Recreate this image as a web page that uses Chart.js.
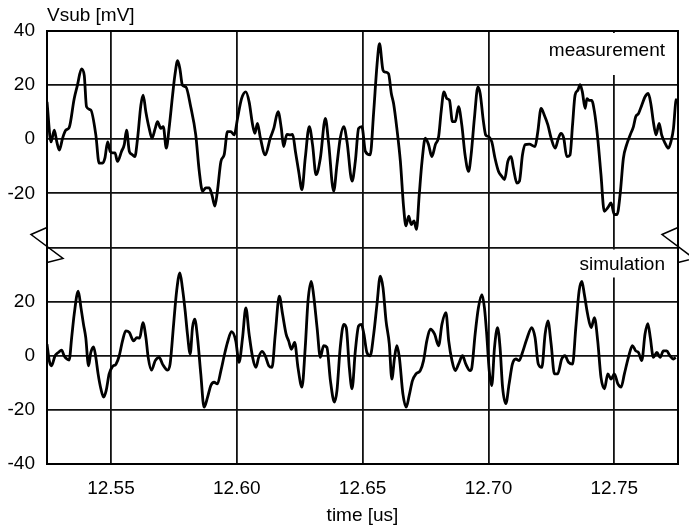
<!DOCTYPE html>
<html>
<head>
<meta charset="utf-8">
<script src="https://cdn.jsdelivr.net/npm/chart.js@4.4.1/dist/chart.umd.min.js"></script>
<style>
  html, body { margin: 0; padding: 0; background: #fff; }
  canvas { display: block; }
</style>
</head>
<body>
<canvas id="graficaVsub" width="689" height="530"></canvas>
<script>
// --- Datos (tiempo en us, tension en mV) ---
const measTime = [
  12.5246, 12.5262, 12.5275, 12.5285, 12.5295, 12.5308, 12.5321, 12.5334, 12.5354, 12.5367,
  12.5383, 12.5394, 12.5403, 12.5420, 12.5440, 12.5453, 12.5467, 12.5476, 12.5487, 12.5497,
  12.5507, 12.5516, 12.5526, 12.5542, 12.5553, 12.5562, 12.5573, 12.5582, 12.5595, 12.5606,
  12.5619, 12.5628, 12.5639, 12.5652, 12.5663, 12.5676, 12.5685, 12.5698, 12.5708, 12.5720,
  12.5731, 12.5745, 12.5754, 12.5765, 12.5774, 12.5784, 12.5798, 12.5817, 12.5837, 12.5851,
  12.5864, 12.5877, 12.5890, 12.5901, 12.5913, 12.5923, 12.5937, 12.5950, 12.5963, 12.5976,
  12.5990, 12.6003, 12.6019, 12.6036, 12.6049, 12.6063, 12.6072, 12.6082,
  12.6094, 12.6113, 12.6133, 12.6147, 12.6164, 12.6177, 12.6186, 12.6199, 12.6213, 12.6222,
  12.6233, 12.6246, 12.6259, 12.6272, 12.6288, 12.6301, 12.6315, 12.6332, 12.6352, 12.6365,
  12.6385, 12.6398, 12.6411, 12.6425, 12.6438, 12.6458, 12.6471, 12.6484, 12.6497, 12.6511,
  12.6530, 12.6544, 12.6557, 12.6567, 12.6581, 12.6590, 12.6603, 12.6614, 12.6623, 12.6636,
  12.6650, 12.6663, 12.6672, 12.6683, 12.6693, 12.6704, 12.6714, 12.6725, 12.6736, 12.6749,
  12.6762, 12.6775, 12.6789, 12.6802, 12.6812, 12.6823, 12.6835, 12.6845, 12.6857, 12.6868,
  12.6881, 12.6894, 12.6907, 12.6921,
  12.6931, 12.6944, 12.6958, 12.6967, 12.6980, 12.6989, 12.7000, 12.7013, 12.7026, 12.7040,
  12.7053, 12.7064, 12.7077, 12.7090, 12.7099, 12.7113, 12.7123, 12.7135, 12.7146, 12.7162,
  12.7185, 12.7196, 12.7209, 12.7222, 12.7236, 12.7249, 12.7265, 12.7278, 12.7288, 12.7299,
  12.7311, 12.7324, 12.7334, 12.7344, 12.7355, 12.7364, 12.7373, 12.7384, 12.7391, 12.7400,
  12.7410, 12.7421, 12.7434, 12.7447, 12.7460, 12.7474, 12.7487, 12.7500, 12.7511, 12.7523,
  12.7536, 12.7549, 12.7563, 12.7576, 12.7585, 12.7596, 12.7609, 12.7622, 12.7635, 12.7646,
  12.7655, 12.7666, 12.7678, 12.7688, 12.7702, 12.7715, 12.7725, 12.7735, 12.7744, 12.7749
];
const measVal = [
  13.8, -1, 3.4, -1, -4, 0.4, 3.4, 4.3, 15, 20,
  26, 23.6, 12, 10.8, 1.6, -8.8, -8.8, -7, -1, -4.5,
  -5, -5, -8.2, -4.5, -2, 3.4, -4.5, -5.5, -6.4, 0.4,
  12.6, 16.3, 10, 4, 0.4, 4, 6.5, 4, 4.7, -3.3,
  4, 16.3, 23.6, 29, 26, 20, 19.3, 12, 1.6, -11.9,
  -19.2, -18, -18, -20.4, -24.7, -19.2, -8.2, -5.7, 2.8, 2.8,
  1.6, 7.7, 15, 17.5, 13.8, 5.3, 2.2, 5.9,
  0.4, -5.8, 0.4, 4, 10.2, 4, -2.7, 1.8, 1.6, 1.8,
  -4.5, -11.9, -18.6, -7, 4.7, -2, -13.1, -7, 7.7, -1.5,
  -19.2, -9.4, 0.4, 4.7, -0.9, -15.5, -8.2, 4, 4.7, -4.5,
  -5.8, 10.2, 27.3, 35.3, 25.5, 24.8, 24.2, 16.9, 13.2, 4,
  -8.2, -25.3, -32, -28.4, -31.5, -30.2, -33.3, -20.4, -8.2, 0.4,
  -2, -6.4, -2, 1, 10.2, 17.5, 15, 14.4, 6.5, 6.5,
  12, 5.3, -5.8, -11.9,
  -5.8, 7.7, 19.3, 16.9, 6.5, 1.6, 1, -0.9, -7, -11.9,
  -13.7, -14.9, -8.2, -6.4, -10.6, -16.2, -15.5, -5.8, -2, -1.8,
  -2.7, 2.8, 11.4, 8.9, 5.3, 0.4, -3.3, 0.4, 2.2, 0.4,
  -6.4, -5.8, 5.3, 16.3, 18.1, 20.2, 17.5, 11.4, 15, 14.4,
  14.4, 10.2, 0.4, -13.1, -26.6, -25.3, -23.5, -27.8, -27.8, -20.4,
  -7, -2, 1.6, 4.7, 8.3, 9.5, 12.6, 15.7, 16.9, 12.6,
  6.5, 1.6, 5.9, 1.6, -1.5, -3.3, -0.9, 4, 13.8, 15
];

const simTime = [
  12.5246, 12.5255, 12.5264, 12.5278, 12.5291, 12.5304, 12.5314, 12.5325, 12.5334, 12.5344,
  12.5354, 12.5370, 12.5381, 12.5391, 12.5400, 12.5411, 12.5420, 12.5431, 12.5440, 12.5449,
  12.5460, 12.5471, 12.5481, 12.5493, 12.5506, 12.5520, 12.5533, 12.5546, 12.5559, 12.5573,
  12.5590, 12.5603, 12.5614, 12.5627, 12.5639, 12.5648, 12.5661, 12.5676, 12.5692, 12.5705,
  12.5725, 12.5735, 12.5749, 12.5761, 12.5774, 12.5784, 12.5795, 12.5804, 12.5815, 12.5824,
  12.5833, 12.5844, 12.5857, 12.5870, 12.5884, 12.5897, 12.5910, 12.5923, 12.5937, 12.5950,
  12.5963, 12.5979, 12.5996, 12.6009, 12.6023, 12.6036, 12.6049, 12.6063, 12.6076,
  12.6087, 12.6100, 12.6113, 12.6127, 12.6140, 12.6153, 12.6169, 12.6182, 12.6196, 12.6206,
  12.6217, 12.6230, 12.6243, 12.6259, 12.6272, 12.6283, 12.6296, 12.6305, 12.6319, 12.6332,
  12.6345, 12.6358, 12.6372, 12.6388, 12.6398, 12.6411, 12.6425, 12.6435, 12.6447, 12.6458,
  12.6471, 12.6484, 12.6495, 12.6505, 12.6517, 12.6530, 12.6544, 12.6557, 12.6570, 12.6581,
  12.6593, 12.6606, 12.6616, 12.6627, 12.6636, 12.6646, 12.6660, 12.6673, 12.6685, 12.6698,
  12.6712, 12.6729, 12.6742, 12.6755, 12.6769, 12.6786, 12.6802, 12.6815, 12.6831, 12.6842,
  12.6855, 12.6868, 12.6881, 12.6897, 12.6910, 12.6927,
  12.6934, 12.6947, 12.6960, 12.6974, 12.6984, 12.6993, 12.7003, 12.7013, 12.7024, 12.7036,
  12.7046, 12.7056, 12.7069, 12.7082, 12.7095, 12.7109, 12.7122, 12.7135, 12.7152, 12.7172,
  12.7185, 12.7198, 12.7212, 12.7225, 12.7236, 12.7249, 12.7262, 12.7275, 12.7291, 12.7304,
  12.7318, 12.7334, 12.7347, 12.7360, 12.7371, 12.7381, 12.7394, 12.7408, 12.7421, 12.7434,
  12.7447, 12.7461, 12.7474, 12.7487, 12.7500, 12.7514, 12.7527, 12.7540, 12.7556, 12.7572,
  12.7585, 12.7596, 12.7609, 12.7622, 12.7633, 12.7643, 12.7655, 12.7669, 12.7682, 12.7695,
  12.7708, 12.7721, 12.7735, 12.7744
];
const simVal = [
  4.3, -1.8, -3.7, 0, 1.2, 2.1, 0, -1.2, -1.6, 6.7,
  15.3, 23.9, 17.7, 11.6, 6.7, -3.7, 1.2, 3.3, -0.6, -6.7,
  -12.2, -15.3, -12.9, -6.7, -4, -3.1, 0, 5.5, 9.2, 8.6,
  5.5, 6.7, 6.5, 12.2, 6.7, -0.6, -5.3, -1.8, -0.6, -3.1,
  -5.3, -3.1, 11.6, 23.9, 30.6, 25.1, 16.5, 8, 0.6, 10.4,
  13.5, 6.7, -6.7, -19, -15.3, -11, -9.8, -10.4, -5.5, 0,
  4.9, 8.9, 5.5, -2.4, 6.7, 17.7, 8, -0.6, -4.3,
  -0.6, 1.6, 0, -3.7, -4.3, 8, 22, 15.3, 8, 5.5,
  2.4, 4.9, -4.3, -11.6, 3.1, 20.2, 27.5, 22.6, 10.4, -0.6,
  3.7, 3.1, -9.2, -17.1, -12.9, 3.1, 11.6, 10.4, -4.3, -12.2,
  1.8, 11, 11.6, 8, 1.2, 0, 8, 19, 29.4, 25.1,
  12.9, 4.3, -8.6, -0.6, 3.7, -0.6, -14.1, -19, -14.7, -9.2,
  -6.7, -5.5, -1.8, 5.5, 9.8, 8, 3.7, 11.6, 15.9, 5.5,
  -1.8, -5.5, -3.1, 0, -3.1, -5.5,
  -4.3, 8, 17.7, 22.6, 17.7, 8, -5.5, -11, 3.1, 10.4,
  3.1, -11.6, -17.7, -10.4, -3.1, -1.2, -1.8, 1.2, 6.1, 10.4,
  6.7, -3.1, -4.3, 8, 12.9, 4.3, -6.7, -6.7, -1.2, 0,
  -2.4, -3.1, 10.4, 23.9, 27.5, 22.6, 15.3, 10.4, 14.1, 5.5,
  -8, -12.2, -6.7, -8.6, -6.7, -10.4, -11.6, -6.7, -0.6, 3.7,
  1.8, 1.2, -1.8, 8, 11.9, 6.7, -0.6, 1.2, -0.6, 1.8,
  1.8, 0, -1.2, -0.6
];

// Ejes
const xTicks      = [12.55, 12.60, 12.65, 12.70, 12.75];
const yTickValues = [-40, -20, 0, 20, 40, 60, 80, 100, 120];
const yTickLabels = ['-40', '-20', '0', '20', '', '-20', '0', '20', '40'];
const MEAS_OFFSET = 80;   // el panel de medida se sube 80 mV sobre el eje comun
const BREAK_AT    = 40;   // linea de corte entre paneles

const FONT = '"Liberation Sans", Arial, Helvetica, sans-serif';
Chart.defaults.font.family = FONT;
Chart.defaults.color = '#000';

// --- Textos, cortes del eje y marco ---
const extras = {
  id: 'extras',
  beforeDatasetsDraw(chart) {
    const { ctx, chartArea: a, scales: { y } } = chart;
    const yb = y.getPixelForValue(BREAK_AT);
    ctx.save();
    ctx.fillStyle = '#fff';
    ctx.fillRect(a.right - 140, a.top + 2, 138, 42);
    ctx.fillRect(a.right - 108, yb + 2, 106, 28);
    ctx.restore();
  },
  afterDatasetsDraw(chart) {
    const { ctx, chartArea: a, scales: { y } } = chart;
    const yb = y.getPixelForValue(BREAK_AT);
    ctx.save();
    ctx.strokeStyle = '#000';
    ctx.lineWidth = 2;
    ctx.strokeRect(a.left, a.top, a.right - a.left, a.bottom - a.top);

    ctx.lineWidth = 1.5;
    [a.left, a.right].forEach(px => {
      ctx.beginPath();
      ctx.moveTo(px, yb - 20);
      ctx.lineTo(px - 16, yb - 13);
      ctx.lineTo(px + 16, yb + 11);
      ctx.lineTo(px, yb + 15);
      ctx.stroke();
    });

    ctx.fillStyle = '#000';
    ctx.font = '19px ' + FONT;
    ctx.textBaseline = 'middle';
    ctx.textAlign = 'right';
    ctx.fillText('measurement', a.right - 13, a.top + 20);
    ctx.fillText('simulation', a.right - 13, yb + 17);
    ctx.textAlign = 'left';
    ctx.fillText('Vsub [mV]', a.left, 16);
    ctx.textAlign = 'center';
    ctx.fillText('time [us]', (a.left + a.right) / 2, 516);
    ctx.restore();
  }
};

const ctx = document.getElementById('graficaVsub').getContext('2d');
new Chart(ctx, {
  type: 'line',
  data: {
    datasets: [
      {
        label: 'measurement',
        data: measTime.map((t, i) => ({ x: t, y: measVal[i] + MEAS_OFFSET }))
      },
      {
        label: 'simulation',
        data: simTime.map((t, i) => ({ x: t, y: simVal[i] }))
      }
    ]
  },
  options: {
    responsive: false,
    animation: false,
    layout: { padding: { top: 31, right: 11, left: 0, bottom: 0 } },
    elements: {
      point: { radius: 0 },
      line: { borderColor: '#000', borderWidth: 2.8, cubicInterpolationMode: 'monotone', fill: false }
    },
    plugins: { legend: { display: false }, tooltip: { enabled: false } },
    scales: {
      x: {
        type: 'linear',
        min: 12.5246,
        max: 12.7753,
        afterBuildTicks: s => { s.ticks = xTicks.map(v => ({ value: v })); },
        afterFit: s => { s.height = 66; },
        ticks: { font: { size: 19 }, padding: 13, maxRotation: 0, callback: v => v.toFixed(2) },
        grid: { color: '#111', lineWidth: 1.8, drawTicks: false },
        border: { display: true, color: '#000', width: 2 }
      },
      y: {
        type: 'linear',
        min: -40,
        max: 120,
        afterBuildTicks: s => { s.ticks = yTickValues.map(v => ({ value: v })); },
        afterFit: s => { s.width = 47; },
        ticks: { font: { size: 19 }, padding: 12, callback: v => yTickLabels[yTickValues.indexOf(v)] },
        grid: { color: '#111', lineWidth: 1.8, drawTicks: false },
        border: { display: true, color: '#000', width: 2 }
      }
    }
  },
  plugins: [extras]
});
</script>
</body>
</html>
